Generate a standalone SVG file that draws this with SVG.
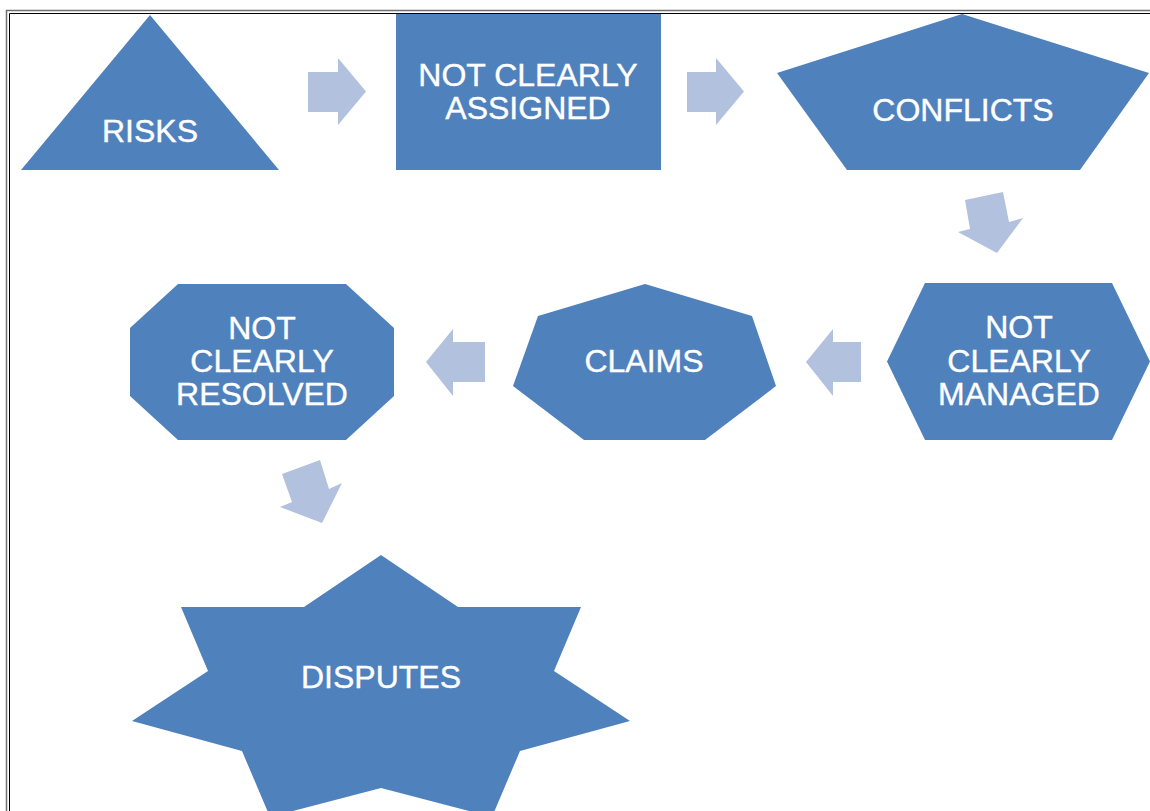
<svg xmlns="http://www.w3.org/2000/svg" width="1150" height="811" viewBox="0 0 1150 811">
  <style>
    .node { fill: #4F81BD; }
    .label { fill: #FFFFFF; stroke: #FFFFFF; stroke-width: 0.4px; font-family: "Liberation Sans", Arial, sans-serif; font-size: 32px; text-anchor: middle; }
    .arrow { fill: #B2C1DE; }
  </style>
  <rect x="0" y="0" width="1150" height="811" fill="#FFFFFF"/>

  <!-- page frame -->
  <g id="frame" fill="none">
    <path d="M6.5,811 V10.5 H1150" stroke="#6F6F6F" stroke-width="1.5"/>
    <path d="M9.5,811 V13.5 H1150" stroke="#000000" stroke-width="1"/>
  </g>

  <!-- nodes -->
  <g id="risks">
    <polygon class="node" points="150,15 279,170 21,170"/>
    <text class="label" x="150" y="142">RISKS</text>
  </g>
  <g id="not-clearly-assigned">
    <rect class="node" x="396" y="14" width="265" height="156"/>
    <text class="label" x="528" y="86">NOT CLEARLY</text>
    <text class="label" x="528" y="119">ASSIGNED</text>
  </g>
  <g id="conflicts">
    <polygon class="node" points="962,14 1149,73 1080,170 847,170 777,73"/>
    <text class="label" x="963" y="121">CONFLICTS</text>
  </g>
  <g id="not-clearly-managed">
    <polygon class="node" points="925,283 1112,283 1150,361.5 1112,440 925,440 887,361.5"/>
    <text class="label" x="1019" y="338">NOT</text>
    <text class="label" x="1019" y="372">CLEARLY</text>
    <text class="label" x="1019" y="405">MANAGED</text>
  </g>
  <g id="claims">
    <polygon class="node" points="645,284 752,316 776,386 705,440 584,440 513,386 538,316"/>
    <text class="label" x="644" y="372">CLAIMS</text>
  </g>
  <g id="not-clearly-resolved">
    <polygon class="node" points="178,284 346,284 394,328 394,396 346,440 178,440 130,396 130,328"/>
    <text class="label" x="262" y="339">NOT</text>
    <text class="label" x="262" y="372">CLEARLY</text>
    <text class="label" x="262" y="405">RESOLVED</text>
  </g>
  <g id="disputes">
    <polygon class="node" points="381,555 458,607 581,607 554,671 630,721 520,751 492,817 381,788 270,817 242,751 132,721 208,671 181,607 304,607"/>
    <text class="label" x="381" y="688">DISPUTES</text>
  </g>

  <!-- connectors -->
  <g id="connectors">
    <polygon class="arrow" points="308,72 338,72 338,58 366,91.5 338,125 338,112 308,112"/>
    <polygon class="arrow" points="687,72 716,72 716,58 744,91.5 716,125 716,112 687,112"/>
    <polygon class="arrow" points="965,200 1003,192 1009,222 1023,218 997,253 958,232 970,229"/>
    <polygon class="arrow" points="861,342 833,342 833,329 806,362 833,396 833,382 861,382"/>
    <polygon class="arrow" points="485,342 453,342 453,329 426,362 453,396 453,382 485,382"/>
    <polygon class="arrow" points="282,474 320,460 329,489 342,483 322,523 280,507 292,502"/>
  </g>
</svg>
